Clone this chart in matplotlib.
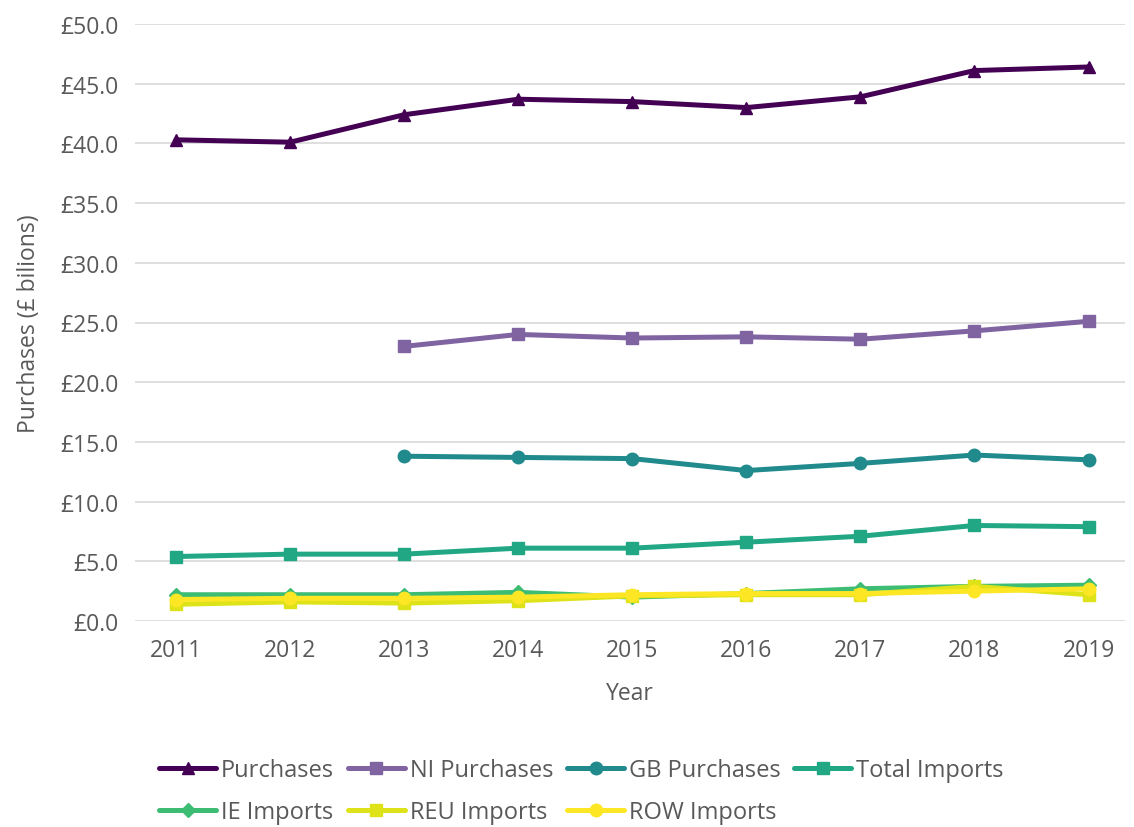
import numpy as np
import matplotlib.pyplot as plt
from matplotlib.ticker import FuncFormatter

plt.rcParams['font.family'] = ['Open Sans', 'DejaVu Sans']

years = [2011, 2012, 2013, 2014, 2015, 2016, 2017, 2018, 2019]
nan = np.nan

purchases = [40.3, 40.1, 42.4, 43.7, 43.5, 43.0, 43.9, 46.1, 46.4]
ni_purchases = [nan, nan, 23.0, 24.0, 23.7, 23.8, 23.6, 24.3, 25.1]
gb_purchases = [nan, nan, 13.8, 13.7, 13.6, 12.6, 13.2, 13.9, 13.5]
total_imports = [5.4, 5.6, 5.6, 6.1, 6.1, 6.6, 7.1, 8.0, 7.9]
ie_imports = [2.2, 2.2, 2.2, 2.4, 2.0, 2.3, 2.7, 2.9, 3.0]
reu_imports = [1.4, 1.6, 1.5, 1.7, 2.1, 2.2, 2.2, 2.9, 2.2]
row_imports = [1.8, 1.9, 1.9, 2.0, 2.2, 2.3, 2.3, 2.5, 2.7]

series = [
    ("Purchases", purchases, "#440154", "^"),
    ("NI Purchases", ni_purchases, "#8064a2", "s"),
    ("GB Purchases", gb_purchases, "#218a8d", "o"),
    ("Total Imports", total_imports, "#22a785", "s"),
    ("IE Imports", ie_imports, "#3dbc74", "D"),
    ("REU Imports", reu_imports, "#dde318", "s"),
    ("ROW Imports", row_imports, "#fde725", "o"),
]

fig = plt.figure(figsize=(11.34, 8.28), dpi=100)
ax = fig.add_axes([135 / 1134, 1 - 622 / 828, (1125 - 135) / 1134, (622 - 25) / 828])

handles = {}
for name, vals, col, mk in series:
    ms = 7 if mk == "D" else 9
    h, = ax.plot(years, vals, color=col, marker=mk, markersize=ms, linewidth=3.6,
                 label=name, solid_joinstyle='round', solid_capstyle='round')
    handles[name] = h

ax.set_ylim(0, 50)
ax.set_yticks(np.arange(0, 50.1, 5))
ax.yaxis.set_major_formatter(FuncFormatter(lambda v, p: f"£{v:.1f}"))
ax.set_xlim(2010.64, 2019.32)
ax.set_xticks(years)
ax.grid(axis='y', color='#d9d9d9', linewidth=1.2)
ax.set_axisbelow(True)
for s in ax.spines.values():
    s.set_visible(False)
ax.tick_params(length=0, labelsize=16.5, colors='#595959', pad=12)
ax.set_xlabel("Year", fontsize=16.5, color='#595959', labelpad=14)
ax.set_ylabel("Purchases (£ bilions)", fontsize=16.5, color='#595959', labelpad=14)

order = ["Purchases", "IE Imports", "NI Purchases", "REU Imports",
         "GB Purchases", "ROW Imports", "Total Imports"]
leg = fig.legend([handles[n] for n in order], order, ncol=4, loc='upper left',
                 bbox_to_anchor=(150 / 1134, 1 - 750 / 828), frameon=False,
                 fontsize=17, handlelength=2.4, handletextpad=0.2,
                 columnspacing=0.6, labelspacing=0.75, borderaxespad=0)
for t in leg.get_texts():
    t.set_color('#595959')

fig.savefig("out.png", dpi=100)
